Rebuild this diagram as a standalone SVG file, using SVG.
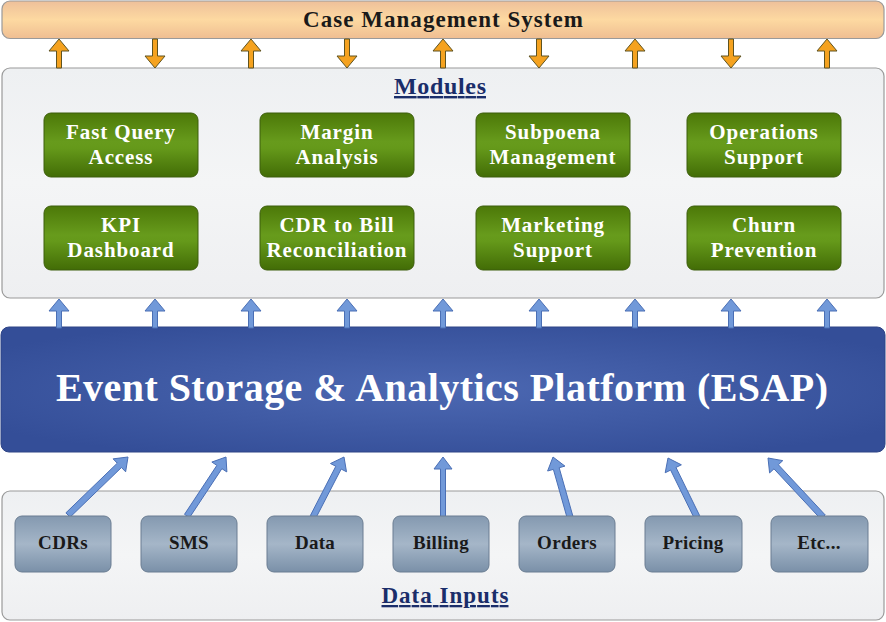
<svg xmlns="http://www.w3.org/2000/svg" width="886" height="622" viewBox="0 0 886 622">
<defs>
<linearGradient id="gOrange" x1="0" y1="0" x2="0" y2="1">
<stop offset="0" stop-color="#eec09a"/><stop offset="0.5" stop-color="#fdd9a1"/><stop offset="1" stop-color="#efbe92"/>
</linearGradient>
<linearGradient id="gPanel" x1="0" y1="0" x2="0" y2="1">
<stop offset="0" stop-color="#eef0f2"/><stop offset="0.5" stop-color="#f4f5f6"/><stop offset="1" stop-color="#eeeff1"/>
</linearGradient>
<linearGradient id="gGreen" x1="0" y1="0" x2="0" y2="1">
<stop offset="0" stop-color="#4c7808"/><stop offset="0.45" stop-color="#679b1c"/><stop offset="0.55" stop-color="#65991a"/><stop offset="1" stop-color="#426c06"/>
</linearGradient>
<linearGradient id="gGray" x1="0" y1="0" x2="0" y2="1">
<stop offset="0" stop-color="#8499b0"/><stop offset="0.5" stop-color="#a5b6c8"/><stop offset="1" stop-color="#7a90a8"/>
</linearGradient>
<radialGradient id="gBlue" cx="0.5" cy="0.5" r="0.6">
<stop offset="0" stop-color="#4c68b2"/><stop offset="1" stop-color="#344e98"/>
</radialGradient>
<path id="up" d="M-2.5,29 L-2.5,12 L-10,12 L0,0 L10,12 L2.5,12 L2.5,29 Z"/>
<path id="down" d="M-2.5,0 L-2.5,17 L-10,17 L0,29 L10,17 L2.5,17 L2.5,0 Z"/>
</defs>
<style>
.panel{fill:url(#gPanel);stroke:#9a9a9a;stroke-width:1.2}
.mod{fill:url(#gGreen);stroke:#3d5e0c;stroke-width:1}
.inp{fill:url(#gGray);stroke:#6a7d92;stroke-width:1}
.oa{fill:#f5a21f;stroke:#5f5320;stroke-width:1}
.ba{fill:#7199d9;stroke:#4a6fb5;stroke-width:1}
.mt{font-family:"Liberation Serif","DejaVu Serif",serif;font-weight:bold;font-size:21px;fill:#ffffff;text-anchor:middle;letter-spacing:0.9px}
.it{font-family:"Liberation Serif","DejaVu Serif",serif;font-weight:bold;font-size:19px;fill:#1a1a1a;text-anchor:middle;letter-spacing:0.3px}
.ttl{font-family:"Liberation Serif","DejaVu Serif",serif;font-weight:bold;fill:#1a2d6a;text-anchor:middle;text-decoration:underline}
</style>

<g id="case-management">
<rect x="2" y="1" width="882" height="37.5" rx="8" fill="url(#gOrange)" stroke="#9a9a9a" stroke-width="1.2"/>
<text x="443" y="27" font-family="Liberation Serif, DejaVu Serif, serif" font-weight="bold" font-size="23" fill="#1a1a1a" text-anchor="middle" textLength="280" lengthAdjust="spacing">Case Management System</text>
</g>

<g id="modules-panel">
<rect class="panel" x="2" y="68" width="882" height="230" rx="8"/>
<text class="ttl" x="440" y="94" font-size="24" textLength="92" lengthAdjust="spacing">Modules</text>
</g>

<g id="esap">
<rect x="1" y="327" width="884" height="125" rx="8" fill="url(#gBlue)" stroke="#2e4486" stroke-width="1"/>
<text x="442" y="401" font-family="Liberation Serif, DejaVu Serif, serif" font-weight="bold" font-size="40" fill="#ffffff" text-anchor="middle" textLength="772" lengthAdjust="spacing">Event Storage &amp; Analytics Platform (ESAP)</text>
</g>

<g id="inputs-panel">
<rect class="panel" x="2" y="491" width="882" height="129" rx="8"/>
<text class="ttl" x="445" y="603" font-size="23" textLength="127" lengthAdjust="spacing">Data Inputs</text>
</g>

<g id="connectors">
<g class="oa">
<use href="#up" x="59" y="39"/>
<use href="#down" x="155" y="39"/>
<use href="#up" x="251" y="39"/>
<use href="#down" x="347" y="39"/>
<use href="#up" x="443" y="39"/>
<use href="#down" x="539" y="39"/>
<use href="#up" x="635" y="39"/>
<use href="#down" x="731" y="39"/>
<use href="#up" x="827" y="39"/>
</g>
<g class="ba">
<use href="#up" x="59" y="299"/>
<use href="#up" x="155" y="299"/>
<use href="#up" x="251" y="299"/>
<use href="#up" x="347" y="299"/>
<use href="#up" x="443" y="299"/>
<use href="#up" x="539" y="299"/>
<use href="#up" x="635" y="299"/>
<use href="#up" x="731" y="299"/>
<use href="#up" x="827" y="299"/>
<polygon points="70.09,517.16 121.46,467.50 125.63,471.81 128,457 113.12,458.87 117.28,463.18 65.92,512.84"/>
<polygon points="189.50,517.65 221.88,468.67 226.89,471.97 226,457 211.87,462.05 216.88,465.36 184.50,514.35"/>
<polygon points="315.67,518.38 341.16,469.04 346.49,471.79 344,457 330.49,463.53 335.82,466.28 310.33,515.62"/>
<polygon points="445.5,518 445.5,469 452,469 443,457 434,469 440.5,469 440.5,518"/>
<polygon points="572.89,516.18 559.16,467.73 564.93,466.10 553,457 547.61,471.00 553.38,469.37 567.11,517.82"/>
<polygon points="699.69,515.68 675.98,467.45 681.37,464.80 668,458 665.21,472.74 670.60,470.09 694.31,518.32"/>
<polygon points="825.20,514.95 778.38,464.73 782.76,460.64 768,458 769.60,472.92 773.99,468.83 820.81,519.05"/>
</g>
</g>

<g id="m-fast-query"><rect class="mod" x="44" y="113" width="154" height="64" rx="7"/><text class="mt" x="121" y="139">Fast Query</text><text class="mt" x="121" y="164">Access</text></g>
<g id="m-margin"><rect class="mod" x="260" y="113" width="154" height="64" rx="7"/><text class="mt" x="337" y="139">Margin</text><text class="mt" x="337" y="164">Analysis</text></g>
<g id="m-subpoena"><rect class="mod" x="476" y="113" width="154" height="64" rx="7"/><text class="mt" x="553" y="139">Subpoena</text><text class="mt" x="553" y="164">Management</text></g>
<g id="m-operations"><rect class="mod" x="687" y="113" width="154" height="64" rx="7"/><text class="mt" x="764" y="139">Operations</text><text class="mt" x="764" y="164">Support</text></g>
<g id="m-kpi"><rect class="mod" x="44" y="206" width="154" height="64" rx="7"/><text class="mt" x="121" y="232">KPI</text><text class="mt" x="121" y="257">Dashboard</text></g>
<g id="m-cdr-bill"><rect class="mod" x="260" y="206" width="154" height="64" rx="7"/><text class="mt" x="337" y="232">CDR to Bill</text><text class="mt" x="337" y="257">Reconciliation</text></g>
<g id="m-marketing"><rect class="mod" x="476" y="206" width="154" height="64" rx="7"/><text class="mt" x="553" y="232">Marketing</text><text class="mt" x="553" y="257">Support</text></g>
<g id="m-churn"><rect class="mod" x="687" y="206" width="154" height="64" rx="7"/><text class="mt" x="764" y="232">Churn</text><text class="mt" x="764" y="257">Prevention</text></g>

<g id="i-cdrs"><rect class="inp" x="15" y="516" width="96" height="56" rx="7"/><text class="it" x="63" y="549">CDRs</text></g>
<g id="i-sms"><rect class="inp" x="141" y="516" width="96" height="56" rx="7"/><text class="it" x="189" y="549">SMS</text></g>
<g id="i-data"><rect class="inp" x="267" y="516" width="96" height="56" rx="7"/><text class="it" x="315" y="549">Data</text></g>
<g id="i-billing"><rect class="inp" x="393" y="516" width="96" height="56" rx="7"/><text class="it" x="441" y="549">Billing</text></g>
<g id="i-orders"><rect class="inp" x="519" y="516" width="96" height="56" rx="7"/><text class="it" x="567" y="549">Orders</text></g>
<g id="i-pricing"><rect class="inp" x="645" y="516" width="97" height="56" rx="7"/><text class="it" x="693" y="549">Pricing</text></g>
<g id="i-etc"><rect class="inp" x="771" y="516" width="97" height="56" rx="7"/><text class="it" x="819" y="549">Etc...</text></g>
</svg>
